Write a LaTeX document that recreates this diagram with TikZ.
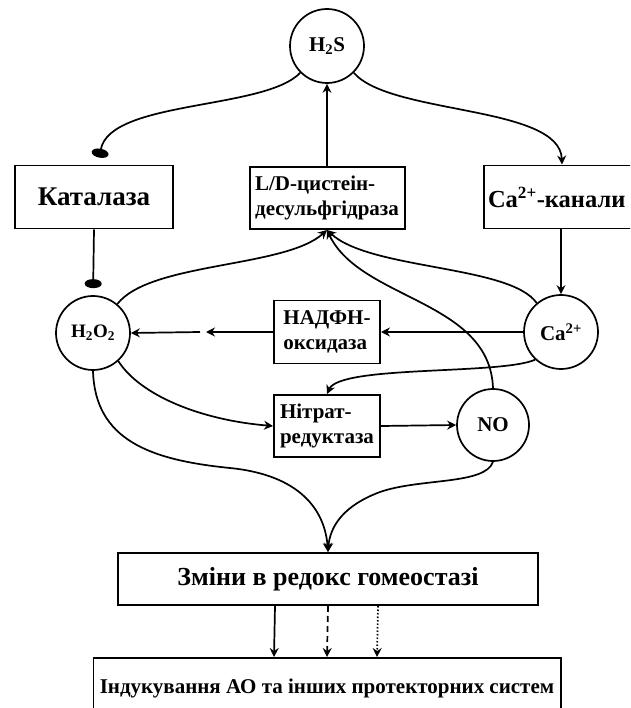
\documentclass[tikz,border=0pt]{standalone}
\usepackage{fontspec}
\setmainfont{Liberation Serif}
\usetikzlibrary{arrows.meta}

\begin{document}
\begin{tikzpicture}[x=1pt,y=-1pt,
	box/.style={draw,line width=0.7mm,rectangle,inner sep=4pt},
	rnd/.style={draw,line width=0.6mm,circle,inner sep=0pt,minimum size=74pt},
	big/.style={font=\bfseries\fontsize{27}{32}\selectfont},
	mid/.style={font=\bfseries\fontsize{21}{25}\selectfont,align=left},
	arr/.style={line width=0.6mm,-{Stealth[length=9pt,width=9pt,inset=3pt]}},
	inh/.style={line width=0.6mm,-{Ellipse[length=9pt,width=17pt]},shorten >=7pt}]
	\useasboundingbox (0,0) rectangle (630,708);
	\clip (0,0) rectangle (630,708);

	\node[rnd,font=\bfseries\fontsize{21}{25}\selectfont] (h2s) at (327,46) {H\textsubscript{2}S};
	\node[box,big,minimum width=158pt,minimum height=63pt] (kat) at (94,197) {Каталаза};
	\node[box,font=\bfseries\fontsize{21}{25}\selectfont,align=left,inner xsep=3pt,minimum width=155pt,minimum height=62pt] (ld) at (327,198) {L/D-цистеін-\\десульфгідраза};
	\node[box,font=\bfseries\fontsize{24.5}{30}\selectfont,anchor=west,inner xsep=4pt,text width=170pt,align=left,minimum height=63pt] (cabox) at (483,197) {Ca\textsuperscript{2+}-канали};

	\node[rnd,font=\bfseries\fontsize{19}{23}\selectfont] (h2o2) at (93,333) {H\textsubscript{2}O\textsubscript{2}};
	\node[rnd,font=\bfseries\fontsize{21}{25}\selectfont] (ca) at (561,332) {Ca\textsuperscript{2+}};
	\node[box,mid,minimum width=106pt,minimum height=63pt] (nadph) at (327,332) {НАДФН-\\оксидаза};
	\node[box,mid,minimum width=106pt,minimum height=62pt] (nitr) at (327,426) {Нітрат-\\редуктаза};
	\node[rnd,minimum size=72pt,font=\bfseries\fontsize{21}{25}\selectfont] (no) at (493,425) {NO};

	\node[box,font=\bfseries\fontsize{26}{30}\selectfont,minimum width=420pt,minimum height=52pt] (redox) at (328,579) {Зміни в редокс гомеостазі};
	\node[box,font=\bfseries\fontsize{21}{25}\selectfont,minimum width=467pt,minimum height=60pt] (induct) at (327,688) {Індукування АО та інших протекторних систем};

	\coordinate (gapA) at (206,332);
	\coordinate (gapB) at (200,332);

	\draw[arr] (ld.north) -- (h2s.south);
	\draw[inh] (h2s.225) .. controls (265,110) and (110,100) .. ([xshift=4pt]kat.north);
	\draw[arr] (h2s.-45) .. controls (390,115) and (560,105) .. ([xshift=79pt]cabox.north west);
	\draw[inh] (kat.south) -- (h2o2.north);
	\draw[arr] (ca.north |- cabox.south) -- (ca.north);

	\draw[arr] (ca.west) -- (nadph.east);
	\draw[arr] (nadph.west) -- (gapA);
	\draw[arr] (gapB) -- (h2o2.east);
	\draw[arr] (nitr.east) -- (no.west);
	\draw[arr] (h2o2.-48) .. controls (140,395) and (200,420) .. (nitr.west);
	\draw[arr] (ca.227) .. controls (500,375) and (340,365) .. (nitr.north);

	\draw[arr] (h2o2.50) .. controls (150,262) and (285,268) .. (ld.south);
	\draw[arr] (ca.130) .. controls (510,265) and (370,270) .. (ld.south);
	\draw[arr] (no.north) .. controls (490,300) and (360,300) .. (ld.south);

	\draw[arr] (h2o2.south) .. controls (95,440) and (150,460) .. (230,468) .. controls (300,475) and (325,510) .. (redox.north);
	\draw[arr] (no.south) .. controls (485,485) and (420,478) .. (380,492) .. controls (345,505) and (330,525) .. (redox.north);

	\draw[arr] ([xshift=-53pt]redox.south) -- ([xshift=-53pt]induct.north);
	\draw[arr,dash pattern=on 6pt off 4pt] (redox.south) -- (induct.north);
	\draw[arr,dash pattern=on 1.5pt off 2pt] ([xshift=50pt]redox.south) -- ([xshift=50pt]induct.north);
\end{tikzpicture}
\end{document}
